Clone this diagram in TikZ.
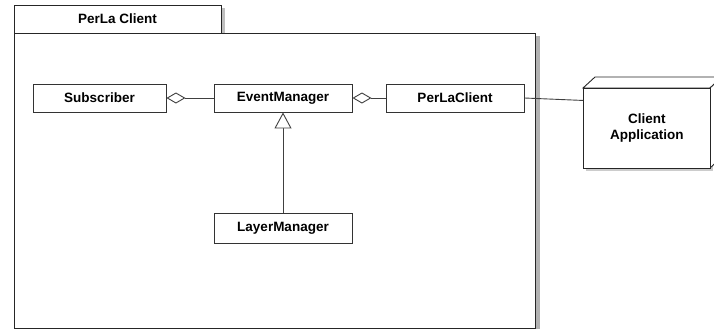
\documentclass[tikz,border=0pt]{standalone}
\usepackage{fontspec}
\setmainfont{Liberation Sans}
\usetikzlibrary{arrows.meta}
\begin{document}
\begin{tikzpicture}[x=1pt,y=-1pt,
  lbl/.style={font=\bfseries\fontsize{13.5}{16}\selectfont},
  cls/.style={draw=black!80,line width=0.9pt,fill=white,minimum width=138pt,minimum height=28pt,inner sep=0pt,lbl},
  conn/.style={draw=black!75,line width=0.9pt},
  agg/.style={conn,{Diamond[open,length=19pt,width=11pt,fill=white]}-},
  gen/.style={conn,-{Triangle[open,length=16pt,width=17pt,fill=white]}}]
\useasboundingbox (0,0) rectangle (714,329);
% package frame shadows
\fill[black!30] (535,36) rectangle (540,329);
\fill[black!25] (221,8) rectangle (225,33);
% package frame
\draw[black!85,line width=0.9pt,fill=white] (14,5) rectangle (221,33);
\node[lbl] (pkgname) at (117.5,19) {PerLa Client};
\draw[black!85,line width=0.9pt,fill=white] (14,33) rectangle (535,328);
% classes
\node[cls,minimum width=133pt] (sub) at (99.5,98) {Subscriber};
\node[cls] (em) at (283,98) {EventManager};
\node[cls] (plc) at (455,98) {PerLaClient};
\node[cls,minimum height=30pt] (lm) at (283,228) {LayerManager};
% client application node (3D box)
\fill[black!20] (586,91) rectangle (713,171);
\draw[black!85,line width=0.9pt,fill=white] (583,88) -- (595,77) -- (722,77) -- (710,88) -- cycle;
\draw[black!85,line width=0.9pt,fill=white] (710,88) -- (722,77) -- (722,157) -- (710,168) -- cycle;
\node[draw=black!85,line width=0.9pt,fill=white,minimum width=127pt,minimum height=80pt,inner sep=0pt,anchor=north west] (ca) at (583,88) {};
\node[lbl,align=center] (catext) at (ca.center) {Client\\Application};
\coordinate (caport) at ([yshift=28pt]ca.west);
% connectors
\draw[agg] (sub.east) -- (em.west);
\draw[agg] (em.east) -- (plc.west);
\draw[gen] (lm.north) -- (em.south);
\draw[conn] (plc.east) -- (caport);
\end{tikzpicture}
\end{document}
